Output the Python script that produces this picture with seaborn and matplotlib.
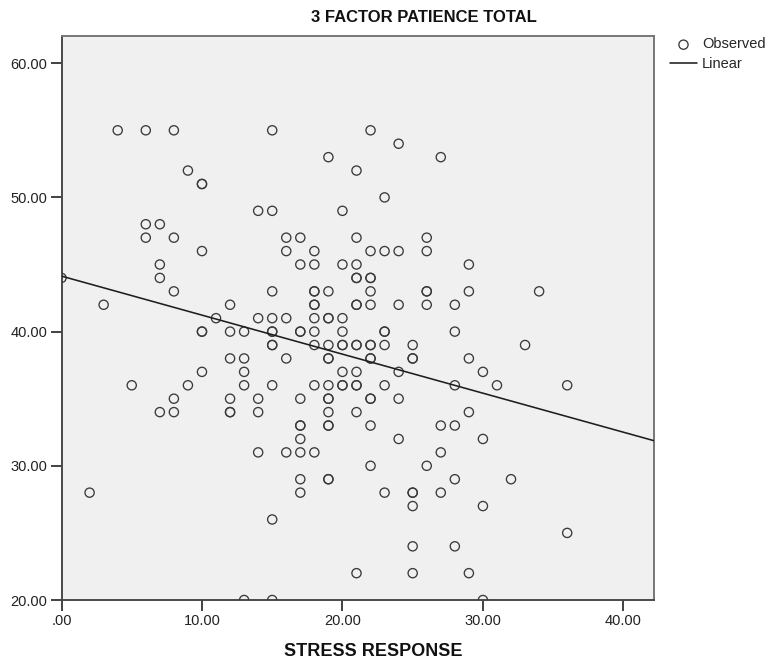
import matplotlib
matplotlib.use("Agg")
import matplotlib.pyplot as plt
import seaborn as sns
import pandas as pd

# Observed cases: stress response score vs 3-factor patience total
stress = [
    4, 6, 8, 15, 22,
    24,
    19, 27,
    9, 21,
    10, 10,
    23,
    14, 15, 20,
    6, 7,
    6, 8, 16, 17, 21, 26,
    10, 16, 18, 22, 23, 24, 26,
    7, 17, 18, 20, 21, 29,
    0, 7, 21, 21, 22, 22,
    8, 15, 18, 18, 19, 22, 26, 26, 29, 34,
    3, 12, 18, 18, 21, 21, 22, 24, 26, 28,
    11, 14, 15, 16, 18, 19, 19, 20,
    10, 10, 12, 13, 15, 15, 17, 17, 18, 20, 23, 23, 28,
    15, 15, 18, 19, 20, 20, 21, 21, 22, 22, 23, 25, 33,
    12, 13, 16, 19, 19, 22, 22, 25, 25, 29,
    10, 13, 20, 21, 24, 30,
    5, 9, 13, 15, 18, 19, 20, 20, 21, 21, 23, 28, 31, 36,
    8, 12, 14, 17, 19, 19, 22, 22, 24,
    7, 8, 12, 12, 14, 19, 21, 29,
    17, 17, 19, 19, 22, 27, 28,
    17, 24, 30,
    14, 16, 17, 18, 27,
    22, 26,
    17, 19, 19, 28, 32,
    2, 17, 23, 25, 25, 27,
    25, 30,
    15,
    36,
    25, 28,
    21, 25, 29,
    13, 15, 30,
]
patience = [
    55, 55, 55, 55, 55,
    54,
    53, 53,
    52, 52,
    51, 51,
    50,
    49, 49, 49,
    48, 48,
    47, 47, 47, 47, 47, 47,
    46, 46, 46, 46, 46, 46, 46,
    45, 45, 45, 45, 45, 45,
    44, 44, 44, 44, 44, 44,
    43, 43, 43, 43, 43, 43, 43, 43, 43, 43,
    42, 42, 42, 42, 42, 42, 42, 42, 42, 42,
    41, 41, 41, 41, 41, 41, 41, 41,
    40, 40, 40, 40, 40, 40, 40, 40, 40, 40, 40, 40, 40,
    39, 39, 39, 39, 39, 39, 39, 39, 39, 39, 39, 39, 39,
    38, 38, 38, 38, 38, 38, 38, 38, 38, 38,
    37, 37, 37, 37, 37, 37,
    36, 36, 36, 36, 36, 36, 36, 36, 36, 36, 36, 36, 36, 36,
    35, 35, 35, 35, 35, 35, 35, 35, 35,
    34, 34, 34, 34, 34, 34, 34, 34,
    33, 33, 33, 33, 33, 33, 33,
    32, 32, 32,
    31, 31, 31, 31, 31,
    30, 30,
    29, 29, 29, 29, 29,
    28, 28, 28, 28, 28, 28,
    27, 27,
    26,
    25,
    24, 24,
    22, 22, 22,
    20, 20, 20,
]
assert len(stress) == len(patience)

x_ticks = [0, 10, 20, 30, 40]
x_tick_labels = [".00", "10.00", "20.00", "30.00", "40.00"]
y_ticks = [20, 30, 40, 50, 60]
y_tick_labels = ["20.00", "30.00", "40.00", "50.00", "60.00"]

df = pd.DataFrame({"STRESS RESPONSE": stress, "3 FACTOR PATIENCE TOTAL": patience})

sns.set_theme(style="ticks")
plt.rcParams["font.family"] = ["Liberation Sans", "DejaVu Sans"]

W, H = 772, 666
fig = plt.figure(figsize=(W / 100, H / 100), dpi=100)
fig.patch.set_facecolor("white")
left, right, top, bottom = 61.5, 654.3, 35.7, 600.0
ax = fig.add_axes([left / W, 1 - bottom / H, (right - left) / W, (bottom - top) / H])
ax.set_facecolor("#f0f0f0")
ax.set_xlim(0, 42.2)
ax.set_ylim(20, 62.05)

sns.regplot(
    data=df, x="STRESS RESPONSE", y="3 FACTOR PATIENCE TOTAL", ax=ax,
    ci=None, truncate=False,
    scatter_kws=dict(s=44, facecolors="none", edgecolors="#3a3a3a",
                     linewidths=0.95, alpha=1, zorder=3),
    line_kws=dict(color="#1e1e1e", lw=1.15, zorder=4),
)
ax.set_xlim(0, 42.2)
ax.set_ylim(20, 62.05)

ax.set_xticks(x_ticks)
ax.set_xticklabels(x_tick_labels)
ax.set_yticks(y_ticks)
ax.set_yticklabels(y_tick_labels)
ax.tick_params(direction="out", length=8, width=1.3, color="#333333",
               labelsize=10.5, labelcolor="#222222", pad=2)
ax.set_xlabel("")
ax.set_ylabel("")
for side, sp in ax.spines.items():
    sp.set_visible(True)
    sp.set_linewidth(1.4)
    sp.set_color("#4a4a4a" if side in ("left", "bottom") else "#777777")

fig.text(423.5 / W, 1 - 18 / H, "3 FACTOR PATIENCE TOTAL", ha="center", va="center",
         fontsize=12, fontweight="bold", color="#111111")
fig.text(373.5 / W, 1 - 652 / H, "STRESS RESPONSE", ha="center", va="center",
         fontsize=13, fontweight="bold", color="#111111")

handles = [ax.collections[0], ax.lines[0]]
fig.legend(handles, ["Observed", "Linear"], loc="upper left",
           bbox_to_anchor=(670 / W, 1 - 37.5 / H), frameon=False,
           borderaxespad=0, borderpad=0, fontsize=10.5, scatterpoints=1,
           handlelength=1.85, handletextpad=0.35, labelspacing=0.37)

fig.savefig("out.png", dpi=100, facecolor="white")
